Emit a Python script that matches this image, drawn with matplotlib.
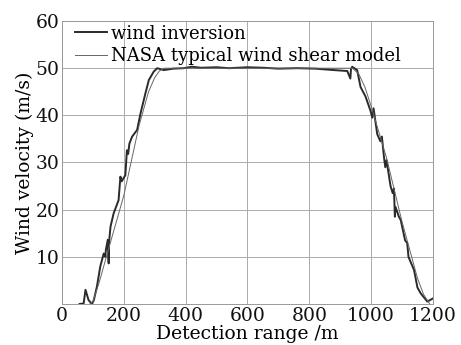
import matplotlib
matplotlib.use('Agg')
import matplotlib.pyplot as plt

# wind inversion result (range m, velocity m/s)
inv_range = [57, 70, 76, 86, 97, 103, 113, 124, 135, 140, 142, 148, 151, 152, 157,
             167, 183, 189, 193, 205, 210, 214, 218, 227, 243, 254, 270, 281, 297,
             308, 329, 360, 394, 420, 450, 500, 540, 600, 650, 700, 760, 820, 880,
             923, 933, 935, 939, 955, 966, 982, 998, 1004, 1008, 1020, 1030, 1035,
             1042, 1046, 1050, 1063, 1070, 1074, 1077, 1079, 1090, 1096, 1110, 1117,
             1121, 1139, 1150, 1160, 1182, 1201]
inv_speed = [0, 0.1, 3.0, 0.8, 0, 0.8, 3.7, 8.0, 10.7, 10.0, 11.5, 13.6, 8.6, 13.0,
             16.4, 19.2, 22.0, 27.0, 26.0, 27.3, 32.6, 31.8, 34.0, 35.5, 36.9, 40.4,
             44.7, 47.5, 49.3, 50.0, 49.6, 49.9, 50.0, 50.3, 50.1, 50.2, 50.0, 50.2,
             50.1, 49.9, 50.0, 49.9, 49.6, 49.4, 47.8, 49.8, 50.3, 49.6, 46.0, 44.0,
             41.0, 39.5, 41.5, 36.0, 34.5, 35.5, 31.0, 29.0, 30.5, 25.0, 23.5, 24.5,
             18.5, 20.6, 18.5, 17.8, 13.5, 12.9, 10.0, 7.2, 3.5, 2.3, 0.5, 1.2]

# NASA typical wind shear model
nasa_range = [90, 100, 120, 150, 200, 250, 280, 300, 315, 330, 400, 600, 800,
              940, 960, 980, 1000, 1050, 1100, 1150, 1170, 1190]
nasa_speed = [0, 0.5, 4.5, 11.5, 23.0, 38.0, 45.0, 48.0, 49.4, 50.0, 50.0, 50.0,
              50.0, 50.0, 48.8, 46.0, 42.0, 31.0, 17.5, 5.5, 2.0, 0]

x_ticks = [0, 200, 400, 600, 800, 1000, 1200]
y_ticks = [10, 20, 30, 40, 50, 60]

plt.rcParams['font.family'] = ['DejaVu Serif']

fig = plt.figure(figsize=(4.61, 3.45), dpi=100)
ax = fig.add_axes([0.1345, 0.119, 0.8045, 0.82])

ax.plot(inv_range, inv_speed, color='#2a2a2a', linewidth=1.4, label='wind inversion')
ax.plot(nasa_range, nasa_speed, color='#666666', linewidth=0.7,
        label='NASA typical wind shear model')

ax.set_xlim(0, 1200)
ax.set_ylim(0, 60)
ax.set_xticks(x_ticks)
ax.set_yticks(y_ticks)
ax.grid(True, color='#aaaaaa', linewidth=0.7)
ax.tick_params(length=0, labelsize=13.5, colors='#111111', pad=2)
for spine in ax.spines.values():
    spine.set_edgecolor('#999999')
    spine.set_linewidth(0.7)

ax.set_xlabel('Detection range /m', fontsize=13.5, labelpad=0)
ax.set_ylabel('Wind velocity (m/s)', fontsize=13.5, labelpad=1)

# legend sits just inside the top-left corner, no frame
ax.legend(loc='upper left', bbox_to_anchor=(0.025, 1.0), frameon=False,
          fontsize=13, handlelength=1.8, handletextpad=0.2, borderaxespad=0.1,
          labelspacing=0.25, borderpad=0.1)

fig.savefig('out.png', dpi=100)
